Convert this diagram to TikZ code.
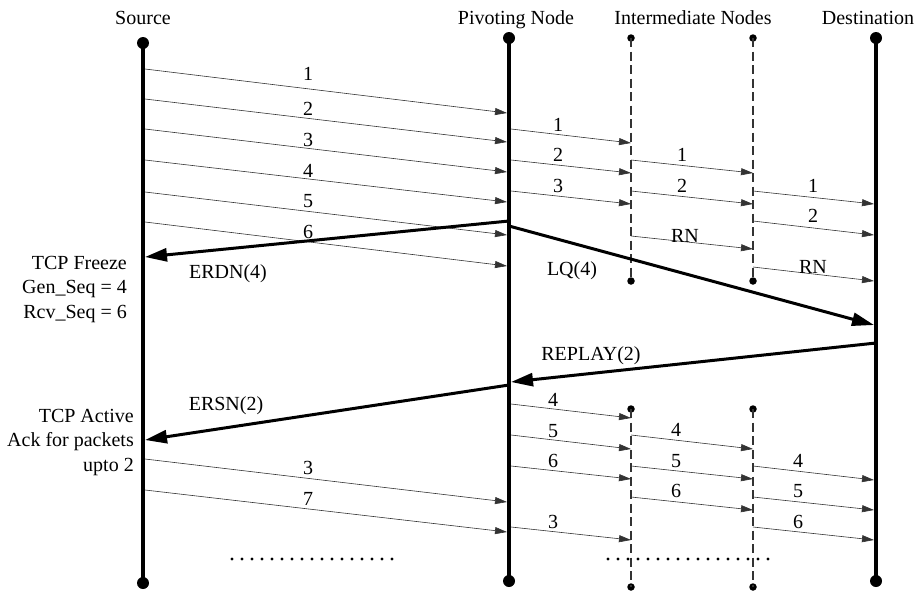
\documentclass[tikz,border=0pt]{standalone}
\usepackage{fontspec}
\setmainfont{Liberation Serif}
\usetikzlibrary{arrows.meta}

% one packet / control message between two named end points
\newcommand{\pktmsg}[5]{%
  \coordinate (#1-from) at (#2);
  \coordinate (#1-to) at (#3);
  \draw[#4] (#1-from) -- (#1-to);
  \node[lbl] (#1-lbl) at (#5) {\csname msgtext\endcsname};}

\begin{document}
\begin{tikzpicture}[x=1pt,y=-1pt,
  every node/.style={font=\fontsize{20}{24}\selectfont, inner sep=0pt},
  lbl/.style={anchor=base},
  rlbl/.style={anchor=base east},
  life/.style={line width=3.4pt},
  relay/.style={line width=1.2pt, dash pattern=on 9pt off 4.5pt, black!80},
  enddot/.style={circle, fill, inner sep=0pt, minimum size=12pt},
  smalldot/.style={circle, fill, inner sep=0pt, minimum size=7.5pt},
  pkt/.style={line width=0.6pt, black!80, -{Triangle[length=12pt,width=7pt]}},
  ctrl/.style={line width=3pt, -{Triangle[length=22pt,width=13pt]}},
  ellipsis/.style={line width=3.2pt, line cap=round, dash pattern=on 0pt off 10pt}
]
\useasboundingbox (0,0) rectangle (921,592);

% ---- headings
\node[lbl] (hS) at (143,24) {Source};
\node[lbl] (hP) at (516,24) {Pivoting Node};
\node[lbl] (hI) at (693,24) {Intermediate Nodes};
\node[lbl] (hD) at (868,24) {Destination};

% ---- lifelines
\node[enddot] (S-top) at (143,43) {};
\node[enddot] (S-bot) at (143,583) {};
\node[enddot] (P-top) at (509,38) {};
\node[enddot] (P-bot) at (509,581) {};
\node[enddot] (D-top) at (876,38) {};
\node[enddot] (D-bot) at (876,581) {};
\draw[life] (S-top.center) -- (S-bot.center);
\draw[life] (P-top.center) -- (P-bot.center);
\draw[life] (D-top.center) -- (D-bot.center);

% intermediate relays, first and second route
\node[smalldot] (A1-top) at (631,38) {};
\node[smalldot] (A1-bot) at (631,281) {};
\node[smalldot] (B1-top) at (753,38) {};
\node[smalldot] (B1-bot) at (753,281) {};
\node[smalldot] (A2-top) at (631,409) {};
\node[smalldot] (A2-bot) at (631,587) {};
\node[smalldot] (B2-top) at (753,409) {};
\node[smalldot] (B2-bot) at (753,587) {};
\draw[relay] (A1-top.center) -- (A1-bot.center);
\draw[relay] (B1-top.center) -- (B1-bot.center);
\draw[relay] (A2-top.center) -- (A2-bot.center);
\draw[relay] (B2-top.center) -- (B2-bot.center);

% ---- data packets, source -> pivoting node
\def\msgtext{1}\pktmsg{sp1}{145,69}{507,113}{pkt}{308,80}
\def\msgtext{2}\pktmsg{sp2}{145,99}{507,142}{pkt}{308,115}
\def\msgtext{3}\pktmsg{sp3}{145,129}{507,172}{pkt}{308,146}
\def\msgtext{4}\pktmsg{sp4}{145,160}{507,202}{pkt}{308,177}
\def\msgtext{5}\pktmsg{sp5}{145,192}{507,235}{pkt}{308,207}
\def\msgtext{6}\pktmsg{sp6}{145,222}{507,266}{pkt}{308,238}

% pivoting node -> first relay
\def\msgtext{1}\pktmsg{pa1}{511,129}{631,143}{pkt}{558,131}
\def\msgtext{2}\pktmsg{pa2}{511,160}{631,173}{pkt}{558,161}
\def\msgtext{3}\pktmsg{pa3}{511,191}{631,204}{pkt}{558,192}

% first relay -> second relay
\def\msgtext{1}\pktmsg{ab1}{631,160}{753,173}{pkt}{682,161}
\def\msgtext{2}\pktmsg{ab2}{631,191}{753,204}{pkt}{682,192}
\def\msgtext{RN}\pktmsg{ab3}{631,236}{753,249}{pkt}{685,242}

% second relay -> destination
\def\msgtext{1}\pktmsg{bd1}{753,191}{874,204}{pkt}{813,192}
\def\msgtext{2}\pktmsg{bd2}{753,221}{874,235}{pkt}{813,222}
\def\msgtext{RN}\pktmsg{bd3}{753,267}{874,281}{pkt}{813,273}

% ---- control messages
\def\msgtext{ERDN(4)}\pktmsg{erdn}{509,221}{145,257}{ctrl}{228,278}
\def\msgtext{LQ(4)}\pktmsg{lq}{509,226}{874,325}{ctrl}{572,275}
\def\msgtext{REPLAY(2)}\pktmsg{replay}{876,343}{511,382}{ctrl}{591,360}
\def\msgtext{ERSN(2)}\pktmsg{ersn}{509,385}{145,440}{ctrl}{226,410}

% ---- source state notes
\node[rlbl] (frz1) at (127,269) {TCP Freeze};
\node[rlbl] (frz2) at (127,293) {Gen\_Seq = 4};
\node[rlbl] (frz3) at (127,318) {Rcv\_Seq = 6};
\node[rlbl] (act1) at (134,422) {TCP Active};
\node[rlbl] (act2) at (134,446) {Ack for packets};
\node[rlbl] (act3) at (134,471) {upto 2};

% ---- after replay: source -> pivoting node
\def\msgtext{3}\pktmsg{sq1}{145,459}{507,502}{pkt}{308,474}
\def\msgtext{7}\pktmsg{sq2}{145,490}{507,532}{pkt}{308,505}

% pivoting node -> first relay
\def\msgtext{4}\pktmsg{pq1}{511,404}{631,418}{pkt}{553,406}
\def\msgtext{5}\pktmsg{pq2}{511,435}{631,449}{pkt}{553,437}
\def\msgtext{6}\pktmsg{pq3}{511,466}{631,479}{pkt}{553,467}
\def\msgtext{3}\pktmsg{pq4}{511,527}{631,540}{pkt}{553,528}

% first relay -> second relay
\def\msgtext{4}\pktmsg{aq1}{631,435}{753,449}{pkt}{676,436}
\def\msgtext{5}\pktmsg{aq2}{631,466}{753,479}{pkt}{676,467}
\def\msgtext{6}\pktmsg{aq3}{631,497}{753,510}{pkt}{676,497}

% second relay -> destination
\def\msgtext{4}\pktmsg{bq1}{753,466}{874,480}{pkt}{798,467}
\def\msgtext{5}\pktmsg{bq2}{753,497}{874,510}{pkt}{798,497}
\def\msgtext{6}\pktmsg{bq3}{753,527}{874,540}{pkt}{798,528}

% ---- continuation dots
\coordinate (e1a) at (232,559);
\coordinate (e1b) at (400,559);
\coordinate (e2a) at (608,559);
\coordinate (e2b) at (777,559);
\draw[ellipsis] (e1a) -- (e1b);
\draw[ellipsis] (e2a) -- (e2b);
\end{tikzpicture}
\end{document}
